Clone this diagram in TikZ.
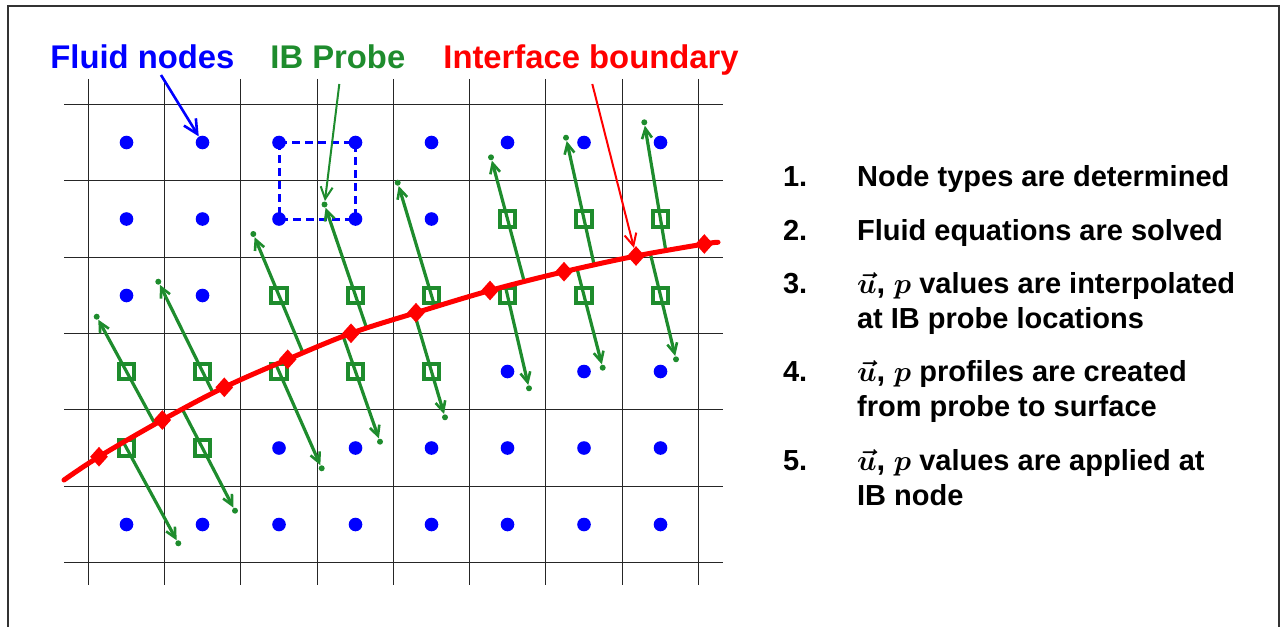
\documentclass[tikz,border=0pt]{standalone}
\usepackage{fontspec}
\setmainfont{Liberation Sans}
\usepackage{amsmath,bm}
\usetikzlibrary{arrows.meta,calc,intersections,shapes.geometric}
\definecolor{fblue}{RGB}{0,0,255}
\definecolor{fgreen}{RGB}{30,140,45}
\definecolor{fred}{RGB}{255,0,0}
\newcommand{\uvp}{{\fontsize{15.5}{17.5}\selectfont$\bm{\vec{u}}$\textbf{,} $\bm{p}$}}
\begin{document}
\begin{tikzpicture}[x=0.5pt,y=-0.5pt,
  gridline/.style={line width=0.6pt, black!85},
  fluid/.style={circle, fill=fblue, minimum size=6.8pt, inner sep=0pt},
  ibnode/.style={rectangle, draw=fgreen, line width=2pt, minimum size=7.6pt, inner sep=0pt},
  probedot/.style={circle, fill=fgreen, minimum size=3pt, inner sep=0pt},
  surf/.style={diamond, fill=fred, minimum width=9pt, minimum height=10pt, inner sep=0pt},
  probe/.style={draw=fgreen, line width=1.6pt, -{Straight Barb[length=5pt,width=5pt,line width=1.3pt]}},
  boundary/.style={draw=fred, line width=2.5pt, line cap=round},
  labelarrow/.style={line width=1pt, -{Straight Barb[length=6pt,width=6pt]}},
  title/.style={font=\fontsize{16.4}{19}\selectfont\bfseries, inner sep=0pt, anchor=base west},
  item/.style={font=\fontsize{14.5}{17.5}\selectfont\bfseries, inner sep=0pt, anchor=base west}
]
\useasboundingbox (0,0) rectangle (1283,626);
% frame
\draw[line width=0.8pt, black!80] (8,640) -- (8,6) -- (1279,6) -- (1279,640);

% grid
\foreach \x in {88.5,164.5,240.5,317.5,393.5,469.5,545.5,622.5,698.5}
  \draw[gridline] (\x,79) -- (\x,585);
\foreach \y in {104.5,180.5,257.5,333.5,409.5,486.5,562.5}
  \draw[gridline] (64,\y) -- (723,\y);
\foreach \x [count=\c] in {126.5,202.5,279,355.5,431.5,507.5,584,660.5}
  \foreach \y [count=\r] in {142.5,219,295.5,371.5,448,524.5}
    \coordinate (g-\c-\r) at (\x,\y);

% fluid nodes
\foreach \c/\r in {1/1,2/1,3/1,4/1,5/1,6/1,7/1,8/1,
                   1/2,2/2,3/2,4/2,5/2,
                   1/3,2/3,
                   6/4,7/4,8/4,
                   3/5,4/5,5/5,6/5,7/5,8/5,
                   1/6,2/6,3/6,4/6,5/6,6/6,7/6,8/6}
  \node[fluid] (n-\c-\r) at (g-\c-\r) {};

% interpolation stencil
\draw[fblue, line width=1.5pt, dash pattern=on 4pt off 2.5pt]
  (n-3-1.center) -- (n-4-1.center) -- (n-4-2.center) -- (n-3-2.center) -- cycle;

% interface boundary points
\foreach \n/\x/\y in {0/64/480, 1/99/456.7, 2/162.3/420, 3/224.3/387.3, 4/287.7/359.3,
                      5/351/333.3, 6/416/312.7, 7/490/290.5, 8/564/271.7, 9/636/256,
                      10/704.3/244, 11/718/242.3}
  \coordinate (s\n) at (\x,\y);
\path[name path=curve] plot[smooth, tension=0.55] coordinates
  {(s0) (s1) (s2) (s3) (s4) (s5) (s6) (s7) (s8) (s9) (s10) (s11)};

% IB nodes and probes
\foreach \i/\cu/\ru/\cl/\rl/\dux/\duy/\dlx/\dly in {
 1/1/4/1/5/96.7/316.7/178.3/543.3,
 2/2/4/2/5/158.3/281.7/235/510.7,
 3/3/3/3/4/253.3/234/321.7/468.3,
 4/4/3/4/4/324.5/204.5/380/441.7,
 5/5/3/5/4/397.7/182.7/445/417.3,
 6/6/2/6/3/491/157.3/529/388.3,
 7/7/2/7/3/566/137.7/602.7/367.7,
 8/8/2/8/3/644.3/122.3/676/359.3}
{
  \node[ibnode] (Su\i) at (g-\cu-\ru) {};
  \node[ibnode] (Sl\i) at (g-\cl-\rl) {};
  \node[probedot] (Du\i) at (\dux,\duy) {};
  \node[probedot] (Dl\i) at (\dlx,\dly) {};
  \path[name path=pu\i] ($(Su\i.center)!-1.5!(Du\i.center)$) -- (Du\i.center);
  \path[name path=pl\i] ($(Sl\i.center)!-1.5!(Dl\i.center)$) -- (Dl\i.center);
  \path[name intersections={of=curve and pu\i, by=Pu\i}];
  \path[name intersections={of=curve and pl\i, by=Pl\i}];
  \draw[probe] (Pu\i) -- (Du\i);
  \draw[probe] (Pl\i) -- (Dl\i);
}

% boundary curve and surface points
\draw[boundary] plot[smooth, tension=0.55] coordinates
  {(s0) (s1) (s2) (s3) (s4) (s5) (s6) (s7) (s8) (s9) (s10) (s11)};
\foreach \n in {1,...,10}
  \node[surf] (d\n) at (s\n) {};

% titles
\node[title, text=fblue] (tfluid) at (50,68.3) {Fluid nodes};
\node[title, text=fgreen] (tprobe) at (270,68.3) {IB Probe};
\node[title, text=fred] (tiface) at (443,68.3) {Interface boundary};
\coordinate (afluid) at (161,75);
\coordinate (aprobe) at (339.3,84);
\coordinate (aiface) at (592.3,84);
\draw[fblue, line width=1.3pt, -{Straight Barb[length=7pt,width=7pt]}] (afluid) -- (n-2-1);
\draw[labelarrow, fgreen] (aprobe) -- (Du4);
\draw[labelarrow, fred] (aiface) -- (d9);

% steps
\node[item] (k1) at (782.7,186.7) {1.};
\node[item] (k2) at (782.7,240) {2.};
\node[item] (k3) at (782.7,293.3) {3.};
\node[item] (k4) at (782.7,381.7) {4.};
\node[item] (k5) at (782.7,470) {5.};
\node[item] (t1) at (856.7,186.7) {Node types are determined};
\node[item] (t2) at (856.7,240) {Fluid equations are solved};
\node[item] (t3) at (856.7,293.3) {\begin{tabular}[t]{@{}l@{}}\uvp{} values are interpolated\\at IB probe locations\end{tabular}};
\node[item] (t4) at (856.7,381.7) {\begin{tabular}[t]{@{}l@{}}\uvp{} profiles are created\\from probe to surface\end{tabular}};
\node[item] (t5) at (856.7,470) {\begin{tabular}[t]{@{}l@{}}\uvp{} values are applied at\\IB node\end{tabular}};
\end{tikzpicture}
\end{document}
